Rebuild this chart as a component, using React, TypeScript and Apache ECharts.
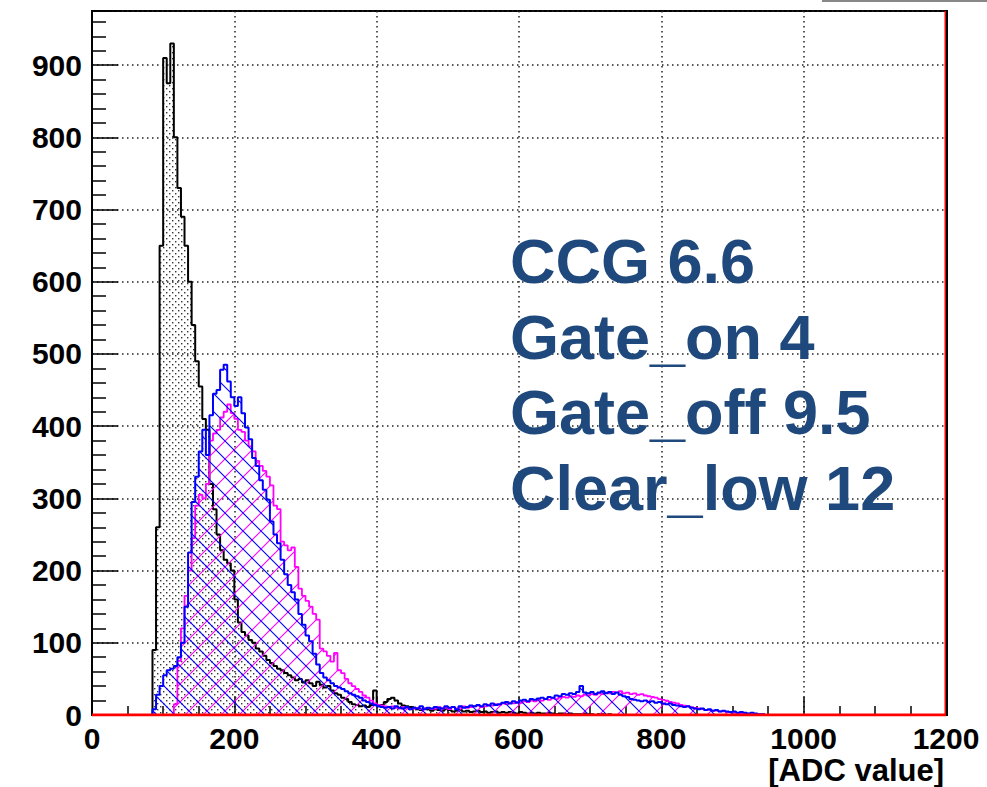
import React, { useEffect, useRef } from "react";
import * as echarts from "echarts";

// ---- data (bin width 5 ADC units, counts) ----
const binWidth = 5;

const blackStart = 85;
const blackCounts = [
  90, 260, 650, 910, 875, 930, 800, 730, 690, 650, // 85..130
  600, 540, 490, 455, 410, 395, 320, 285, 250, 228, // 135..180
  215, 210, 200, 160, 128, 115, 110, 104, 100, 92, // 185..230
  88, 82, 76, 72, 68, 64, 62, 58, 55, 52, // 235..280
  48, 50, 45, 48, 44, 40, 46, 42, 38, 40, // 285..330
  34, 30, 28, 24, 22, 18, 15, 14, 12, 13, // 335..380
  11, 14, 34, 12, 14, 18, 22, 24, 20, 16, // 385..430
  13, 12, 11, 10, 8, 7, 9, 8, 6, 8, // 435..480
  7, 6, 9, 7, 5, 6, 7, 5, 6, 4, // 485..530
  5, 6, 4, 5, 3, 4, 5, 3, 4, 3, // 535..580
  4, 3, 2, 4, 3, 2, 3, 2, 3, 2, // 585..630
  2, 3, 2, 1, 2, 2, 1, 2, 1, 1, // 635..680
  1, 2, 1, 1, 0, 1, 1, 0, 1, 0, // 685..730
];

const blueStart = 85;
const blueCounts = [
  8, 28, 40, 55, 62, 64, 68, 80, 100, 150, // 85..130
  225, 295, 330, 365, 395, 360, 415, 445, 450, 478, // 135..180
  485, 462, 440, 428, 440, 418, 398, 382, 356, 345, // 185..230
  325, 312, 298, 268, 250, 238, 215, 195, 180, 170, // 235..280
  160, 140, 125, 110, 102, 85, 70, 58, 52, 48, // 285..330
  44, 40, 38, 36, 33, 30, 28, 26, 24, 20, // 335..380
  18, 16, 14, 12, 11, 10, 11, 9, 12, 10, // 385..430
  9, 11, 8, 10, 9, 12, 8, 10, 9, 11, // 435..480
  10, 9, 12, 10, 11, 8, 12, 10, 11, 13, // 485..530
  12, 14, 12, 15, 13, 16, 14, 15, 17, 18, // 535..580
  16, 19, 17, 20, 21, 19, 22, 21, 23, 24, // 585..630
  22, 25, 24, 27, 26, 29, 28, 30, 29, 32, // 635..680
  40, 31, 30, 32, 29, 31, 33, 30, 32, 29, // 685..730
  31, 28, 26, 25, 22, 21, 20, 19, 20, 18, // 735..780
  19, 17, 18, 16, 15, 16, 14, 13, 12, 11, // 785..830
  12, 10, 9, 8, 9, 7, 8, 6, 7, 5, // 835..880
  6, 5, 4, 5, 3, 4, 3, 2, 3, 2, // 885..930
  1, 1, // 935..940
];

const magentaStart = 115;
const magentaCounts = [
  15, 75, 120, 165, 200, 245, 290, 305, 300, 320, // 115..160
  380, 390, 395, 412, 420, 430, 418, 410, 395, 392, // 165..210
  380, 372, 365, 352, 345, 338, 330, 318, 290, 285, // 215..260
  240, 235, 228, 232, 205, 175, 165, 158, 150, 140, // 265..310
  132, 92, 88, 82, 74, 86, 62, 58, 50, 44, // 315..360
  40, 36, 32, 27, 24, 20, 16, 14, 13, 12, // 365..410
  11, 12, 10, 9, 11, 10, 8, 9, 10, 8, // 415..460
  9, 10, 8, 9, 11, 9, 10, 8, 11, 9, // 465..510
  10, 12, 10, 11, 12, 13, 11, 12, 14, 13, // 515..560
  15, 14, 16, 15, 17, 16, 18, 17, 19, 18, // 565..610
  20, 19, 21, 20, 22, 21, 23, 22, 24, 25, // 615..660
  24, 26, 25, 27, 26, 28, 27, 29, 28, 30, // 665..710
  29, 31, 30, 32, 31, 33, 30, 31, 29, 30, // 715..760
  28, 29, 27, 26, 25, 24, 22, 21, 20, 18, // 765..810
  17, 16, 14, 13, 12, 11, 10, 9, 8, 7, // 815..860
  7, 6, 6, 5, 5, 4, 4, 3, 3, 2, // 865..910
  2, 2, 1, 1, 1, 1, // 915..940
];

// empty red histogram spanning the full axis (with its right edge)
const redOutline = [
  [0, 0],
  [1200, 0],
  [1200, 975],
];

const xMin = 0;
const xMax = 1200;
const xInterval = 200;
const yMin = 0;
const yMax = 975;
const yInterval = 100;

const xAxisTitle = "[ADC value]";
const annotationLines = ["CCG 6.6", "Gate_on 4", "Gate_off 9.5", "Clear_low 12"];

const FONT = "'Liberation Sans', Arial, Helvetica, sans-serif";

function toHist(start: number, counts: number[]): number[][] {
  const pts: number[][] = [[start, 0]];
  counts.forEach((c, i) => pts.push([start + i * binWidth, c]));
  pts.push([start + counts.length * binWidth, 0]);
  return pts;
}

function makeDots(): HTMLCanvasElement {
  const c = document.createElement("canvas");
  c.width = 6;
  c.height = 6;
  const ctx = c.getContext("2d")!;
  ctx.fillStyle = "#333333";
  ctx.fillRect(1, 1, 1.4, 1.4);
  ctx.fillRect(4, 4, 1.4, 1.4);
  return c;
}

function makeHatch(color: string, back: boolean): HTMLCanvasElement {
  const s = 18;
  const c = document.createElement("canvas");
  c.width = s;
  c.height = s;
  const ctx = c.getContext("2d")!;
  ctx.strokeStyle = color;
  ctx.lineWidth = 1.1;
  ctx.beginPath();
  if (back) {
    ctx.moveTo(-2, -2);
    ctx.lineTo(s + 2, s + 2);
    ctx.moveTo(-2, s - 2);
    ctx.lineTo(2, s + 2);
    ctx.moveTo(s - 2, -2);
    ctx.lineTo(s + 2, 2);
  } else {
    ctx.moveTo(-2, s + 2);
    ctx.lineTo(s + 2, -2);
    ctx.moveTo(-2, 2);
    ctx.lineTo(2, -2);
    ctx.moveTo(s - 2, s + 2);
    ctx.lineTo(s + 2, s - 2);
  }
  ctx.stroke();
  return c;
}

export default function App() {
  const ref = useRef<HTMLDivElement>(null);

  useEffect(() => {
    document.body.style.margin = "0";
    if (!ref.current) return;
    const chart = echarts.init(ref.current, undefined, { renderer: "svg" });

    const histSeries = (
      name: string,
      data: number[][],
      color: string,
      width: number,
      pattern: HTMLCanvasElement,
      z: number
    ) => ({
      name,
      type: "line",
      step: "end",
      data,
      showSymbol: false,
      symbol: "none",
      z,
      lineStyle: { color, width },
      itemStyle: { color },
      areaStyle: { color: { image: pattern, repeat: "repeat" }, opacity: 1 },
      silent: true,
    });

    const annotationGraphics = annotationLines.map((t, i) => ({
      type: "text",
      x: 510,
      y: 261 + i * 75.5,
      z: 100,
      style: {
        text: t,
        fill: "#1F497D",
        fontSize: 63,
        fontWeight: "bold",
        fontFamily: FONT,
        align: "left",
        verticalAlign: "middle",
      },
    }));

    chart.setOption({
      animation: false,
      backgroundColor: "#ffffff",
      grid: {
        left: 92,
        right: 41,
        top: 11,
        bottom: 72,
        show: true,
        borderColor: "#000",
        borderWidth: 2,
        backgroundColor: "transparent",
      },
      xAxis: {
        type: "value",
        min: xMin,
        max: xMax,
        interval: xInterval,
        axisLine: { show: true, lineStyle: { color: "#000", width: 2 } },
        axisTick: { show: true, inside: true, length: 18, lineStyle: { color: "#000", width: 1.5 } },
        minorTick: { show: true, splitNumber: 4, length: 9, lineStyle: { color: "#000", width: 1.5 } },
        axisLabel: {
          color: "#000",
          fontSize: 30,
          fontWeight: "bold",
          fontFamily: FONT,
          margin: 8,
          formatter: (v: number) => String(v),
        },
        splitLine: { show: true, lineStyle: { color: "#222", width: 1.5, type: [1.5, 3.5] } },
      },
      yAxis: {
        type: "value",
        min: yMin,
        max: yMax,
        interval: yInterval,
        axisLine: { show: true, lineStyle: { color: "#000", width: 2 } },
        axisTick: { show: true, inside: true, length: 26, lineStyle: { color: "#000", width: 1.5 } },
        minorTick: { show: true, splitNumber: 5, length: 14, lineStyle: { color: "#000", width: 1.5 } },
        axisLabel: {
          color: "#000",
          fontSize: 30,
          fontWeight: "bold",
          fontFamily: FONT,
          margin: 10,
          showMaxLabel: false,
          formatter: (v: number) => String(v),
        },
        splitLine: { show: true, lineStyle: { color: "#222", width: 1.5, type: [1.5, 3.5] } },
      },
      series: [
        histSeries("black", toHist(blackStart, blackCounts), "#000000", 2, makeDots(), 2),
        histSeries("magenta", toHist(magentaStart, magentaCounts), "#ff00ff", 1.8, makeHatch("#ff00ff", false), 3),
        histSeries("blue", toHist(blueStart, blueCounts), "#0000ff", 2, makeHatch("#0000ff", true), 4),
        {
          name: "red",
          type: "line",
          data: redOutline,
          showSymbol: false,
          symbol: "none",
          z: 5,
          lineStyle: { color: "#ff0000", width: 3 },
          silent: true,
        },
      ],
      graphic: [
        {
          type: "line",
          z: 100,
          shape: { x1: 947, y1: 10, x2: 947, y2: 716 },
          style: { stroke: "#000", lineWidth: 2 },
        },
        {
          type: "rect",
          z: 100,
          shape: { x: 822, y: 0, width: 165, height: 2 },
          style: { fill: "#888888" },
        },
        {
          type: "text",
          x: 944,
          y: 770,
          z: 100,
          style: {
            text: xAxisTitle,
            fill: "#000",
            fontSize: 31,
            fontWeight: "bold",
            fontFamily: FONT,
            align: "right",
            verticalAlign: "middle",
          },
        },
        ...annotationGraphics,
      ],
    });

    return () => chart.dispose();
  }, []);

  return <div ref={ref} style={{ width: 987, height: 787 }} />;
}
